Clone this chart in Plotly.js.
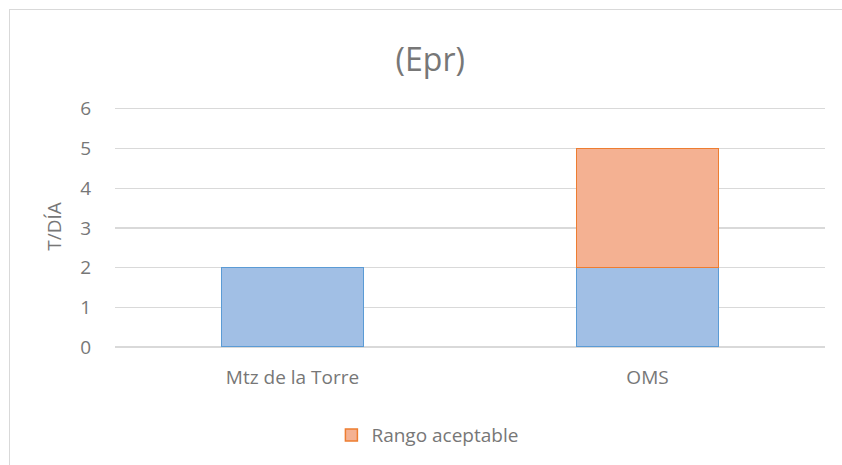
<!DOCTYPE html>
<html>
<head>
<meta charset="utf-8">
<script src="https://cdn.plot.ly/plotly-3.0.1.min.js"></script>
<style>
  body { margin: 0; background: #fff; }
  #frame { position: absolute; left: 9px; top: 9px; width: 840px; height: 460px;
           border: 1px solid #d9d9d9; pointer-events: none; }
  #chart { width: 842px; height: 465px; }
</style>
</head>
<body>
<div id="chart"></div>
<div id="frame"></div>
<script>
// data
const categories = ['Mtz de la Torre', 'OMS'];
const base_values = [2, 2];
const range_values = [null, 3];
const range_name = 'Rango aceptable';

const text_grey = '#777777';

const base = {
  x: categories,
  y: base_values,
  type: 'bar',
  name: 'Base',
  showlegend: false,
  hoverinfo: 'none',
  marker: { color: '#a1bfe5', line: { color: '#5b9bd5', width: 1.5 } },
};

const range = {
  x: categories,
  y: range_values,
  type: 'bar',
  name: range_name,
  hoverinfo: 'none',
  marker: { color: '#f4b192', line: { color: '#ed7d31', width: 1.5 } },
};

// top of range padded so the gridline at 6 is not clipped at the edge
const layout = {
  width: 842,
  height: 465,
  barmode: 'stack',
  bargap: 0.6,
  paper_bgcolor: '#fff',
  plot_bgcolor: '#fff',
  font: { family: '"Open Sans", sans-serif', color: text_grey, size: 19 },
  margin: { l: 115, r: 17, t: 106, b: 117 },
  title: {
    text: '(Epr)',
    font: { size: 32, color: text_grey },
    x: 0.511, xanchor: 'center',
    y: 0.872, yanchor: 'middle',
  },
  xaxis: {
    showgrid: false,
    showline: false,
    zeroline: false,
    ticks: 'outside',
    ticklen: 13,
    tickcolor: 'rgba(0,0,0,0)',
  },
  yaxis: {
    range: [0, 6.07],
    dtick: 1,
    gridcolor: '#d9d9d9',
    gridwidth: 1.3,
    zeroline: true,
    zerolinecolor: '#d9d9d9',
    zerolinewidth: 1.3,
    showline: false,
    ticks: 'outside',
    ticklen: 19,
    tickcolor: 'rgba(0,0,0,0)',
    title: { text: 'T/DÍA', font: { size: 19, color: text_grey }, standoff: 13 },
  },
  legend: {
    orientation: 'h',
    x: 0.44, xanchor: 'center',
    y: -0.36, yanchor: 'middle',
    font: { size: 19, color: text_grey },
    itemwidth: 30,
  },
  showlegend: true,
};

Plotly.newPlot('chart', [base, range], layout, { displayModeBar: false, staticPlot: true });
</script>
</body>
</html>
